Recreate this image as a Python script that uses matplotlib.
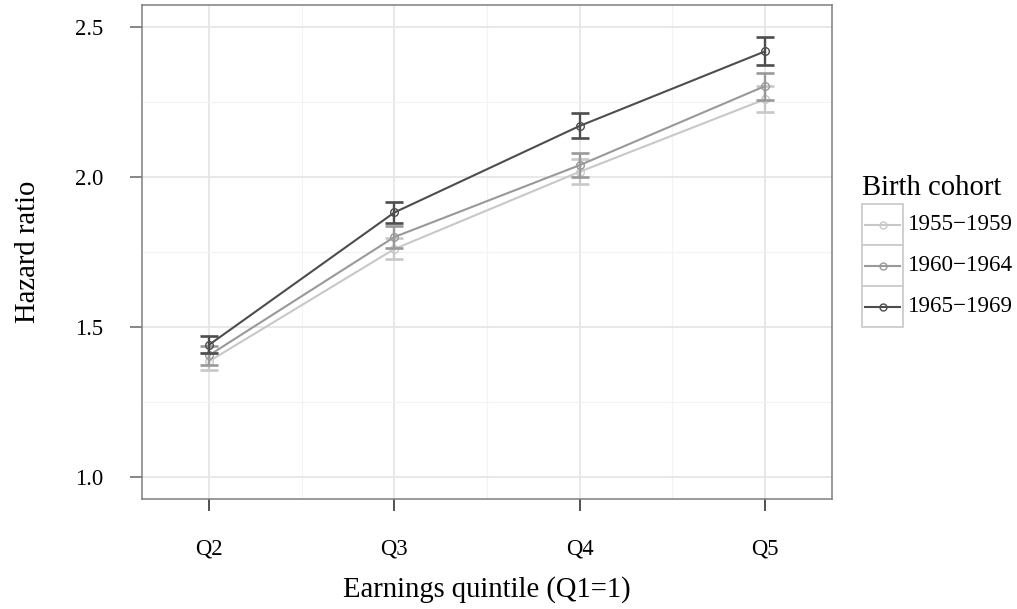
import matplotlib
matplotlib.use("Agg")
import matplotlib.pyplot as plt
from matplotlib.patches import Rectangle
from matplotlib.lines import Line2D
from matplotlib.ticker import MultipleLocator

plt.rcParams['font.family'] = ['Liberation Serif', 'DejaVu Serif']

quintiles = ['Q2', 'Q3', 'Q4', 'Q5']
cohorts = ['1955\u22121959', '1960\u22121964', '1965\u22121969']
colors = ['#c8c8c8', '#999999', '#4d4d4d']

hr_1955 = [1.385, 1.760, 2.018, 2.260]
lo_1955 = [1.355, 1.725, 1.976, 2.216]
hi_1955 = [1.413, 1.797, 2.059, 2.304]

hr_1960 = [1.405, 1.800, 2.040, 2.304]
lo_1960 = [1.371, 1.765, 2.001, 2.259]
hi_1960 = [1.437, 1.838, 2.082, 2.349]

hr_1965 = [1.440, 1.882, 2.171, 2.420]
lo_1965 = [1.412, 1.846, 2.132, 2.376]
hi_1965 = [1.468, 1.918, 2.213, 2.467]

hr = [hr_1955, hr_1960, hr_1965]
lo = [lo_1955, lo_1960, lo_1965]
hi = [hi_1955, hi_1960, hi_1965]

fig = plt.figure(figsize=(10.17, 6.09), dpi=100)
ax = fig.add_axes([142/1017, 110/609, 690/1017, 494/609])

x = list(range(len(quintiles)))

# gridlines
ax.set_axisbelow(True)
ax.yaxis.set_minor_locator(MultipleLocator(0.25))
ax.set_xticks([i + 0.5 for i in x[:-1]], minor=True)
ax.grid(True, which='major', color='#e6e6e6', lw=1.3)
ax.grid(True, which='minor', color='#f3f3f3', lw=0.8)

for k in range(3):
    yerr = [[h - l for h, l in zip(hr[k], lo[k])], [u - h for h, u in zip(hr[k], hi[k])]]
    ax.errorbar(x, hr[k], yerr=yerr, fmt='none', ecolor=colors[k],
                elinewidth=1.7, capsize=6.5, capthick=1.9, zorder=2 + k)
    ax.plot(x, hr[k], color=colors[k], lw=1.5, marker='o', ms=5.5,
            mfc='none', mec=colors[k], mew=1.0, zorder=2.5 + k)

ax.set_xlim(-0.362, 3.362)
ax.set_ylim(0.925, 2.575)
ax.set_xticks(x)
ax.set_xticklabels(quintiles)
ax.set_yticks([1.0, 1.5, 2.0, 2.5])
ax.set_yticklabels(['1.0', '1.5', '2.0', '2.5'])

ax.tick_params(axis='both', which='major', labelsize=16.3, length=8.6,
               width=1.1, color='#666666')
ax.tick_params(axis='x', pad=20, color='#222222')
ax.tick_params(axis='y', pad=19)
ax.tick_params(which='minor', length=0)

for s in ax.spines.values():
    s.set_color('#7f7f7f')
    s.set_linewidth(1.1)

ax.set_xlabel('Earnings quintile (Q1=1)', fontsize=20.6, labelpad=12)
ax.set_ylabel('Hazard ratio', fontsize=20.6, labelpad=25)

# legend drawn as ggplot-style key boxes
fig.text(862/1017, 1 - 188/609, 'Birth cohort', fontsize=20.6,
         ha='left', va='center')
kx, kw, kh = 862/1017, 41/1017, 41/609
for k in range(3):
    top = 204 + 41 * k
    y0 = 1 - (top + 41) / 609
    fig.patches.append(Rectangle((kx, y0), kw, kh, transform=fig.transFigure,
                                 facecolor='white', edgecolor='#cccccc', lw=1.3))
    yc = y0 + kh / 2
    fig.lines.append(Line2D([kx + 3/1017, kx + kw - 3/1017], [yc, yc],
                            transform=fig.transFigure, color=colors[k], lw=1.5))
    fig.lines.append(Line2D([kx + kw / 2], [yc], transform=fig.transFigure,
                            marker='o', ms=5, mfc='none', mec=colors[k], mew=1.0))
    fig.text(908/1017, yc, cohorts[k], fontsize=16.6, ha='left', va='center')

fig.savefig('out.png', dpi=100)
